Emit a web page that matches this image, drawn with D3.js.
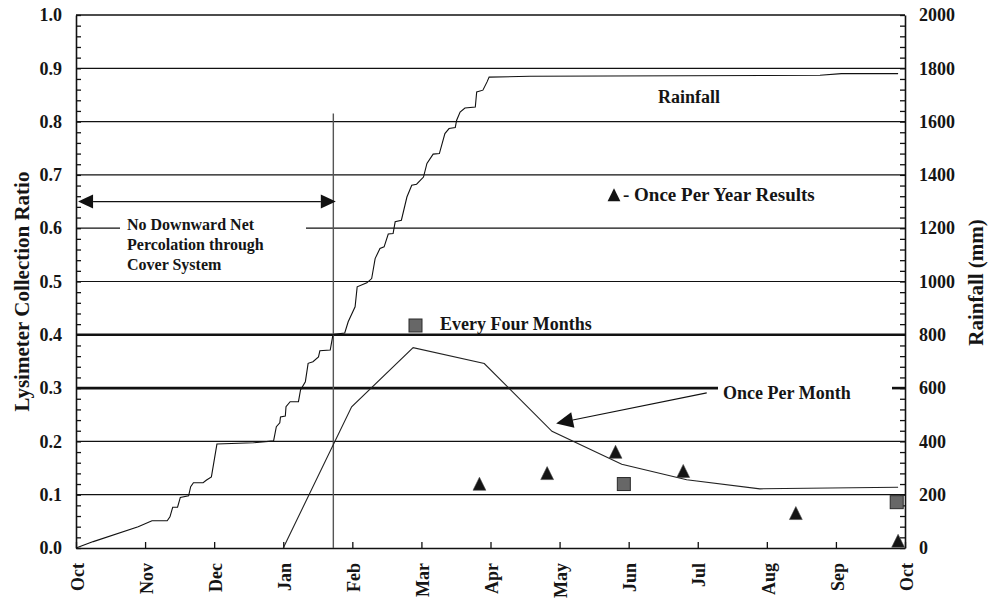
<!DOCTYPE html>
<html>
<head>
<meta charset="utf-8">
<script src="https://cdn.jsdelivr.net/npm/d3@7"></script>
<style>
  html, body { margin: 0; padding: 0; background: #fff; }
  svg { display: block; }
  text { font-family: "Liberation Serif", "Times New Roman", serif; font-weight: bold; fill: #151515; }
</style>
</head>
<body>
<svg id="chart" width="989" height="601"></svg>
<script>
// Month labels along the bottom (month index 0..12)
const months = ["Oct", "Nov", "Dec", "Jan", "Feb", "Mar", "Apr", "May", "Jun", "Jul", "Aug", "Sep", "Oct"];

// Cumulative rainfall (mm) against time in months since 1 Oct
const rainMonth = [0.01, 0.25, 0.90, 1.10, 1.32, 1.36, 1.40, 1.47, 1.51, 1.63, 1.66, 1.70, 1.84, 1.89, 1.96, 2.04,
  2.57, 2.86, 2.90, 2.95, 2.96, 3.03, 3.04, 3.10, 3.22, 3.25, 3.32, 3.36, 3.43, 3.51, 3.53, 3.68, 3.72, 3.89,
  3.94, 4.04, 4.07, 4.21, 4.28, 4.33, 4.40, 4.46, 4.52, 4.59, 4.62, 4.71, 4.79, 4.86, 4.93, 5.03, 5.08, 5.17,
  5.26, 5.34, 5.40, 5.49, 5.51, 5.56, 5.63, 5.78, 5.80, 5.89, 5.95, 5.98, 6.57, 10.77, 11.08, 11.90];
const rainMm = [1, 24, 80, 102, 102, 117, 153, 153, 190, 196, 230, 245, 245, 255, 267, 390,
  395, 402, 455, 470, 492, 495, 530, 549, 549, 593, 624, 693, 699, 717, 740, 743, 801, 807,
  849, 905, 980, 995, 1011, 1086, 1124, 1130, 1178, 1180, 1224, 1230, 1317, 1361, 1365, 1392, 1443, 1478,
  1480, 1555, 1574, 1578, 1605, 1636, 1651, 1655, 1711, 1718, 1749, 1767, 1770, 1774, 1780, 1780];

// Lysimeter collection ratio, sampled once per month
const monthlyPos = [3.00, 3.99, 4.88, 5.91, 6.89, 7.90, 8.84, 9.90, 11.90];
const monthlyRatio = [0.000, 0.265, 0.376, 0.346, 0.219, 0.157, 0.128, 0.111, 0.114];

// Once per year results
const yearlyPos = [5.84, 6.82, 7.81, 8.79, 10.42, 11.90];
const yearlyRatio = [0.120, 0.140, 0.180, 0.144, 0.065, 0.013];

// Every four months results
const fourMonthPos = [7.93, 11.88];
const fourMonthRatio = [0.120, 0.086];

// Left and right tick values
const ratioTicks = [0.0, 0.1, 0.2, 0.3, 0.4, 0.5, 0.6, 0.7, 0.8, 0.9, 1.0];
const rainTicks = [0, 200, 400, 600, 800, 1000, 1200, 1400, 1600, 1800, 2000];

// Period with no downward net percolation (months since 1 Oct)
const noPercStart = 0.03, noPercEnd = 3.725, noPercRatio = 0.65;

const svg = d3.select("#chart");
const L = 76, R = 905, T = 15, B = 548;

const x = d3.scaleLinear().domain([0, 12]).range([L, R]);
const yL = d3.scaleLinear().domain([0, 1]).range([B, T]);
const yR = d3.scaleLinear().domain([0, 2000]).range([B, T]);

// Horizontal grid lines (0.3 and 0.4 heavier; two broken around labels)
const gridBreaks = { "0.6": [120, 306], "0.3": [718, 892] };
const grid = svg.append("g");
ratioTicks.filter(v => v > 0 && v < 1).forEach(v => {
  const key = v.toFixed(1);
  const yy = yL(v);
  const w = (key === "0.3" || key === "0.4") ? 2.6 : 1.2;
  const segs = gridBreaks[key] ? [[L, gridBreaks[key][0]], [gridBreaks[key][1], R]] : [[L, R]];
  segs.forEach(s => grid.append("line")
    .attr("x1", s[0]).attr("x2", s[1]).attr("y1", yy).attr("y2", yy)
    .attr("stroke", "#111").attr("stroke-width", w));
});

// Frame top
svg.append("line").attr("x1", L).attr("x2", R).attr("y1", T).attr("y2", T)
  .attr("stroke", "#111").attr("stroke-width", 1.5);

// Left axis: minor inward ticks + labels
const minorL = d3.range(0, 51).map(i => i * 0.02);
svg.append("g").attr("transform", `translate(${L},0)`)
  .call(d3.axisLeft(yL).tickValues(minorL).tickSizeInner(-5).tickSizeOuter(0).tickFormat(""))
  .call(g => g.selectAll("line").attr("stroke", "#111").attr("stroke-width", 1.3))
  .call(g => g.select(".domain").attr("stroke", "#111").attr("stroke-width", 1.6));
svg.append("g").attr("transform", `translate(${L},0)`)
  .call(d3.axisLeft(yL).tickValues(ratioTicks).tickSize(0).tickPadding(14).tickFormat(d3.format(".1f")))
  .call(g => g.select(".domain").remove())
  .call(g => g.selectAll("text").style("font-family", "Liberation Serif").style("font-weight", "bold")
    .style("font-size", "18px").attr("fill", "#151515"));

// Right axis: minor inward ticks + labels
const minorR = d3.range(0, 51).map(i => i * 40);
svg.append("g").attr("transform", `translate(${R},0)`)
  .call(d3.axisRight(yR).tickValues(minorR).tickSizeInner(-5).tickSizeOuter(0).tickFormat(""))
  .call(g => g.selectAll("line").attr("stroke", "#111").attr("stroke-width", 1.3))
  .call(g => g.select(".domain").attr("stroke", "#111").attr("stroke-width", 1.6));
svg.append("g").attr("transform", `translate(${R},0)`)
  .call(d3.axisRight(yR).tickValues(rainTicks).tickSize(0).tickPadding(14).tickFormat(d3.format("d")))
  .call(g => g.select(".domain").remove())
  .call(g => g.selectAll("text").style("font-family", "Liberation Serif").style("font-weight", "bold")
    .style("font-size", "18px").attr("fill", "#151515"));

// Bottom axis: month ticks and rotated labels
svg.append("g").attr("transform", `translate(0,${B})`)
  .call(d3.axisBottom(x).tickValues(d3.range(13)).tickSizeInner(-6).tickSizeOuter(0).tickFormat(i => months[i]))
  .call(g => g.selectAll("line").attr("stroke", "#111").attr("stroke-width", 1.3))
  .call(g => g.select(".domain").attr("stroke", "#111").attr("stroke-width", 1.6))
  .call(g => g.selectAll("text")
    .attr("transform", "rotate(-90)").attr("x", -15).attr("y", 0).attr("dy", "0.4em")
    .style("text-anchor", "end")
    .style("font-family", "Liberation Serif").style("font-weight", "bold")
    .style("font-size", "18px").attr("fill", "#151515"));

// Axis titles
svg.append("text").attr("transform", `translate(29,${(T + B) / 2 + 10}) rotate(-90)`)
  .attr("text-anchor", "middle").style("font-size", "21px").text("Lysimeter Collection Ratio");
svg.append("text").attr("transform", `translate(983,${(T + B) / 2 + 1}) rotate(-90)`)
  .attr("text-anchor", "middle").style("font-size", "21px").text("Rainfall (mm)");

// Vertical marker at end of no-percolation period
svg.append("line").attr("x1", x(noPercEnd)).attr("x2", x(noPercEnd))
  .attr("y1", yL(0.815)).attr("y2", B).attr("stroke", "#555").attr("stroke-width", 1.4);

// Cumulative rainfall
svg.append("path")
  .datum(rainMonth.map((m, i) => [m, rainMm[i]]))
  .attr("fill", "none").attr("stroke", "#111").attr("stroke-width", 1.1)
  .attr("d", d3.line().x(d => x(d[0])).y(d => yR(d[1])));

// Once-per-month collection ratio
svg.append("path")
  .datum(monthlyPos.map((m, i) => [m, monthlyRatio[i]]))
  .attr("fill", "none").attr("stroke", "#222").attr("stroke-width", 1.1)
  .attr("d", d3.line().x(d => x(d[0])).y(d => yL(d[1])));

// Markers
const triPath = "M0,-6.8L6.4,6.2L-6.4,6.2Z";
svg.append("g").selectAll("path").data(yearlyPos.map((m, i) => [m, yearlyRatio[i]])).join("path")
  .attr("transform", d => `translate(${x(d[0])},${yL(d[1])})`)
  .attr("d", triPath).attr("fill", "#141414").attr("stroke", "#444").attr("stroke-width", 0.6);
svg.append("g").selectAll("rect").data(fourMonthPos.map((m, i) => [m, fourMonthRatio[i]])).join("rect")
  .attr("x", d => x(d[0]) - 6.5).attr("y", d => yL(d[1]) - 6.5).attr("width", 13).attr("height", 13)
  .attr("fill", "#676767").attr("stroke", "#2a2a2a").attr("stroke-width", 1);

// Arrowhead helper
function arrowHead(g, tip, from, len, half) {
  const dx = tip[0] - from[0], dy = tip[1] - from[1];
  const d = Math.hypot(dx, dy), ux = dx / d, uy = dy / d;
  const bx = tip[0] - ux * len, by = tip[1] - uy * len;
  g.append("path").attr("d",
    `M${tip[0]},${tip[1]}L${bx - uy * half},${by + ux * half}L${bx + uy * half},${by - ux * half}Z`)
    .attr("fill", "#111");
  return [bx, by];
}

// Double arrow across the no-percolation period
const ann = svg.append("g");
const ay = yL(noPercRatio);
const a1 = [x(noPercStart), ay], a2 = [x(noPercEnd) + 2.5, ay];
const b1 = arrowHead(ann, a1, a2, 15, 7);
const b2 = arrowHead(ann, a2, a1, 15, 7);
ann.append("line").attr("x1", b1[0]).attr("x2", b2[0]).attr("y1", ay).attr("y2", ay)
  .attr("stroke", "#111").attr("stroke-width", 1.3);

const noPerc = ann.append("text").attr("x", 127).attr("y", 230).style("font-size", "16px");
["No Downward Net", "Percolation through", "Cover System"].forEach((t, i) =>
  noPerc.append("tspan").attr("x", 127).attr("y", 230 + i * 20).text(t));

// Pointer to the monthly curve
const pStart = [x(9.13), yL(0.291)], pTip = [x(6.95), yL(0.2338)];
const pb = arrowHead(ann, pTip, pStart, 17, 8);
ann.append("line").attr("x1", pStart[0]).attr("y1", pStart[1]).attr("x2", pb[0]).attr("y2", pb[1])
  .attr("stroke", "#111").attr("stroke-width", 1.1);
ann.append("text").attr("x", 723).attr("y", 399).style("font-size", "18px").text("Once Per Month");

// Series labels / legend entries
ann.append("text").attr("x", 658).attr("y", 103).style("font-size", "18px").text("Rainfall");
ann.append("path").attr("transform", "translate(614,195)").attr("d", triPath).attr("fill", "#141414");
ann.append("text").attr("x", 623).attr("y", 201).style("font-size", "19px").text("- Once Per Year Results");
ann.append("rect").attr("x", 409).attr("y", 319).attr("width", 13).attr("height", 13)
  .attr("fill", "#676767").attr("stroke", "#2a2a2a").attr("stroke-width", 1);
ann.append("text").attr("x", 440).attr("y", 330).style("font-size", "18px").text("Every Four Months");
</script>
</body>
</html>
